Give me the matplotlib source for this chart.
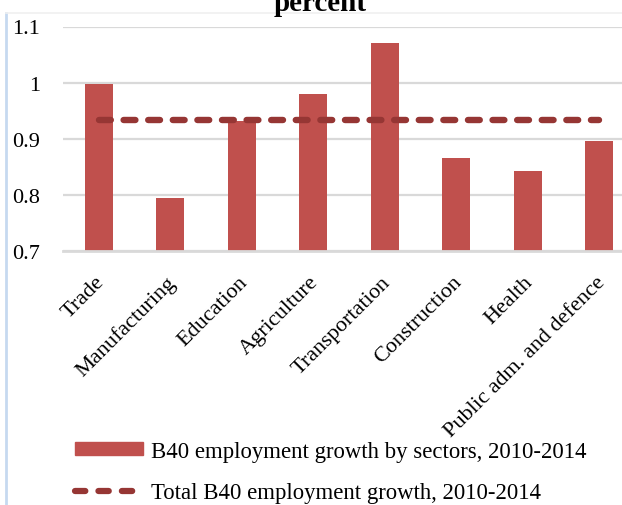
import numpy as np
import matplotlib
matplotlib.use('Agg')
import matplotlib.pyplot as plt
from matplotlib.lines import Line2D
from matplotlib.transforms import ScaledTranslation

## B40 employment growth by sector vs. total
sectors = ['Trade', 'Manufacturing', 'Education', 'Agriculture', 'Transportation',
           'Construction', 'Health', 'Public adm. and defence']
sector_growth = [0.997, 0.794, 0.931, 0.980, 1.070, 0.865, 0.843, 0.896]
total_growth = 0.934

bar_label = 'B40 employment growth by sectors, 2010-2014'
line_label = 'Total B40 employment growth, 2010-2014'
y_ticks = [0.7, 0.8, 0.9, 1.0, 1.1]
y_tick_labels = ['0.7', '0.8', '0.9', '1', '1.1']

plt.rcParams['font.family'] = ['Liberation Serif', 'DejaVu Serif']

W, H = 622, 506
fig = plt.figure(figsize=(W / 100.0, H / 100.0), dpi=100)
ax = fig.add_axes([63.0 / W, 1 - 251.7 / H, 1 - 63.0 / W, (251.7 - 27.5) / H])

bar_color = '#C0504D'
line_color = '#963634'
grid_color = '#D9D9D9'

ind = np.arange(len(sectors))
ax.bar(ind, sector_growth, 0.39, bottom=0, color=bar_color, zorder=2, label=bar_label)
ax.plot(ind, [total_growth] * len(ind), color=line_color, linewidth=4.6,
        dashes=(1.85, 2.0), dash_capstyle='round', zorder=3, label=line_label)

ax.set_ylim(0.7, 1.1)
ax.set_xlim(-0.5, 7.318)
ax.set_yticks(y_ticks)
ax.set_yticklabels(y_tick_labels, fontsize=16)
ax.yaxis.grid(True, color=grid_color, linewidth=1.6, zorder=0)
ax.set_axisbelow(True)
ax.tick_params(axis='y', length=0, pad=16.5)
ax.tick_params(axis='x', length=0, pad=15.5)
ax.set_xticks(ind)
ax.set_xticklabels(sectors, fontsize=16, rotation=45, ha='right', va='top',
                   rotation_mode='anchor')
shift = ScaledTranslation(-0.04, 0, fig.dpi_scale_trans)
for lbl in ax.get_xticklabels():
    lbl.set_transform(lbl.get_transform() + shift)
for side in ['top', 'right', 'left']:
    ax.spines[side].set_visible(False)
ax.spines['bottom'].set_color(grid_color)
ax.spines['bottom'].set_linewidth(2.0)

# title runs off the top of the canvas
fig.text(320.0 / W, 1 - 11.0 / H, 'percent', ha='center', va='baseline',
         fontsize=21, fontweight='bold')

## legend below the plot
handles = [plt.Rectangle((0, 0), 1, 1, color=bar_color),
           Line2D([0], [0], color=line_color, linewidth=4.5, dashes=(1.65, 2.1),
                  dash_capstyle='round')]
fig.legend(handles, [bar_label, line_label], loc='upper left',
           bbox_to_anchor=(75.0 / W, 1 - 442.0 / H), frameon=False, fontsize=16.4,
           handlelength=2.98, handleheight=0.5, handletextpad=0.35, labelspacing=0.9,
           borderaxespad=0, borderpad=0)

# chart frame edges
fig.add_artist(Line2D([6.0 / W, 6.0 / W], [0, 1 - 14.0 / H], transform=fig.transFigure,
                      color='#C6D9F0', linewidth=2.0))
fig.add_artist(Line2D([6.0 / W, 1], [1 - 14.0 / H, 1 - 14.0 / H], transform=fig.transFigure,
                      color='#F0F0F0', linewidth=1.2))

fig.savefig('out.png', dpi=100)
